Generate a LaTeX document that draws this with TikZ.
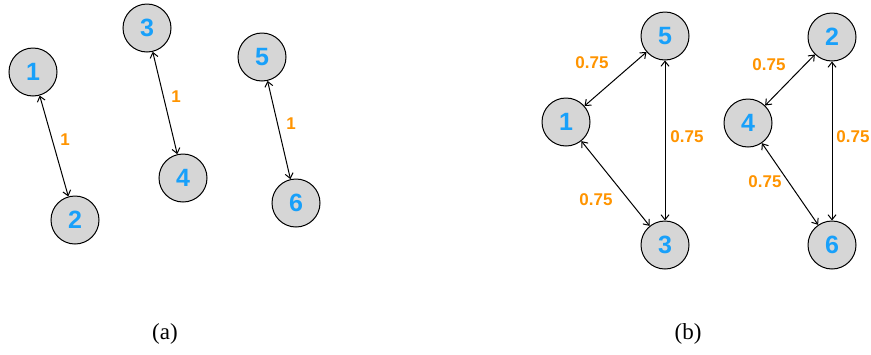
\documentclass[tikz,border=0pt]{standalone}
\usepackage{fontspec}
\setmainfont{Liberation Serif}
\setsansfont{Liberation Sans}
\usetikzlibrary{arrows.meta}
\definecolor{vertgray}{RGB}{214,214,214}
\definecolor{vertblue}{RGB}{24,160,250}
\definecolor{wtorange}{RGB}{255,148,0}

\begin{document}
\begin{tikzpicture}[x=1pt,y=-1pt,
    vert/.style={circle,draw,line width=1pt,fill=vertgray,minimum size=48pt,inner sep=0pt,
      font=\sffamily\bfseries\fontsize{25}{25}\selectfont,text=vertblue},
    wt/.style={font=\sffamily\bfseries\fontsize{17}{17}\selectfont,text=wtorange},
    link/.style={line width=1pt,{Straight Barb[length=5pt,width=8pt]}-{Straight Barb[length=5pt,width=8pt]}}]

    \useasboundingbox (0,0) rectangle (871,354);

    % (a) pairs
    \node[vert] (a1) at (33,72) {1};
    \node[vert] (a2) at (75,220) {2};
    \node[vert] (a3) at (147,28) {3};
    \node[vert] (a4) at (183,178) {4};
    \node[vert] (a5) at (262,57) {5};
    \node[vert] (a6) at (296,203) {6};

    \draw[link] (a1) -- (a2);
    \draw[link] (a3) -- (a4);
    \draw[link] (a5) -- (a6);

    \node[wt] (w12) at (65,140) {1};
    \node[wt] (w34) at (176,97) {1};
    \node[wt] (w56) at (291,124) {1};

    % (b) triangles
    \node[vert] (b5) at (665,36) {5};
    \node[vert] (b1) at (566,122) {1};
    \node[vert] (b3) at (665,245) {3};
    \node[vert] (b2) at (832,37) {2};
    \node[vert] (b4) at (748,123) {4};
    \node[vert] (b6) at (832,245) {6};

    \draw[link] (b1) -- (b5);
    \draw[link] (b1) -- (b3);
    \draw[link] (b5) -- (b3);
    \draw[link] (b4) -- (b2);
    \draw[link] (b4) -- (b6);
    \draw[link] (b2) -- (b6);

    \node[wt] (w15) at (592,63) {0.75};
    \node[wt] (w53) at (687,137) {0.75};
    \node[wt] (w13) at (596,200) {0.75};
    \node[wt] (w42) at (769,65) {0.75};
    \node[wt] (w26) at (853,137) {0.75};
    \node[wt] (w46) at (765,182) {0.75};

    % Captions
    \node[font=\fontsize{23}{23}\selectfont] (capa) at (165,334) {(a)};
    \node[font=\fontsize{23}{23}\selectfont] (capb) at (688,334) {(b)};

  \end{tikzpicture}
\end{document}
